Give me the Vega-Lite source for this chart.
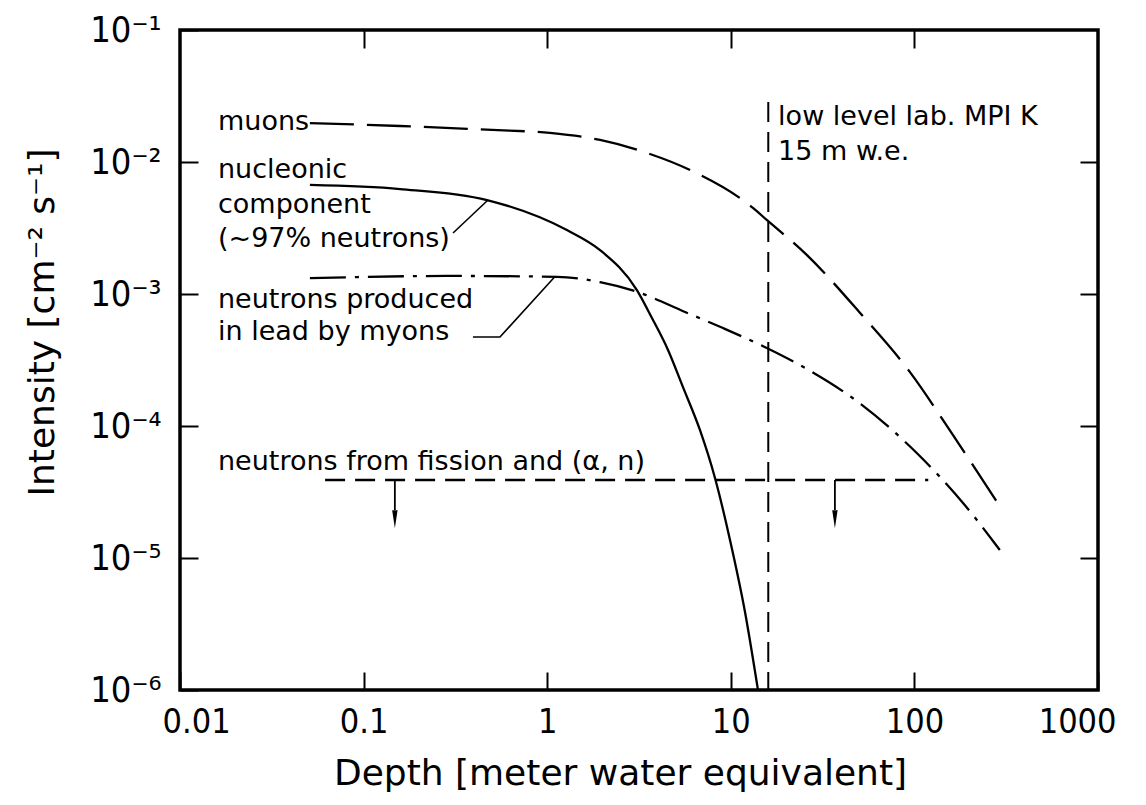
{
  "$schema": "https://vega.github.io/schema/vega-lite/v6.json",
  "width": 918,
  "height": 660,
  "autosize": "none",
  "padding": {"left": 180, "top": 30, "right": 48, "bottom": 115},
  "background": "white",
  "config": {
    "view": {"stroke": "black", "strokeWidth": 3.5},
    "axis": {"grid": false, "domain": false, "tickColor": "black", "labelColor": "black", "titleColor": "black"}
  },
  "datasets": {
    "muons": [
      {"x": 0.051, "y": 0.0197}, {"x": 0.158, "y": 0.01874}, {"x": 0.5, "y": 0.0175},
      {"x": 1.035, "y": 0.0166}, {"x": 1.94, "y": 0.01468}, {"x": 3.5, "y": 0.0117},
      {"x": 6.0, "y": 0.00869}, {"x": 13.2, "y": 0.00449}, {"x": 15.7, "y": 0.00364},
      {"x": 26, "y": 0.00197}, {"x": 50.6, "y": 0.000718}, {"x": 94.6, "y": 0.000256},
      {"x": 162, "y": 0.0000855}, {"x": 282, "y": 0.0000265}
    ],
    "nucleonic": [
      {"x": 0.051, "y": 0.0067}, {"x": 0.158, "y": 0.00624}, {"x": 0.47, "y": 0.00515},
      {"x": 1.28, "y": 0.00305}, {"x": 1.94, "y": 0.00215}, {"x": 3.08, "y": 0.00107},
      {"x": 3.72, "y": 0.000658}, {"x": 4.55, "y": 0.000377}, {"x": 5.49, "y": 0.000197},
      {"x": 6.79, "y": 0.0000933}, {"x": 8.2, "y": 0.0000404}, {"x": 9.9, "y": 0.0000137},
      {"x": 11.95, "y": 0.0000039}, {"x": 14.06, "y": 0.000001}
    ],
    "myons": [
      {"x": 0.051, "y": 0.00132}, {"x": 0.296, "y": 0.00137}, {"x": 1.13, "y": 0.00135},
      {"x": 1.94, "y": 0.00123}, {"x": 3.08, "y": 0.00104}, {"x": 5.63, "y": 0.000731},
      {"x": 9.07, "y": 0.000552}, {"x": 15.7, "y": 0.00039}, {"x": 25.4, "y": 0.000275},
      {"x": 49.3, "y": 0.000152}, {"x": 103, "y": 0.0000624},
      {"x": 184, "y": 0.0000261}, {"x": 292, "y": 0.0000115}
    ],
    "leaders": [
      {"g": "a", "o": 1, "x": 0.307, "y": 0.0029}, {"g": "a", "o": 2, "x": 0.476, "y": 0.00515},
      {"g": "b", "o": 1, "x": 0.394, "y": 0.000472}, {"g": "b", "o": 2, "x": 0.553, "y": 0.000472},
      {"g": "b", "o": 3, "x": 1.10, "y": 0.00135}
    ],
    "fission": [{"x": 0.0617, "x2": 119, "y": 0.000039}],
    "arrows": [
      {"x": 0.148, "y": 0.000039, "y2": 0.0000231, "head": 0.0000197},
      {"x": 36.9, "y": 0.000039, "y2": 0.0000231, "head": 0.0000197}
    ],
    "lab": [{"x": 16, "y": 0.0285, "y2": 0.000001}],
    "labels": [
      {"x": 0.0161, "y": 0.01747, "t": "muons"},
      {"x": 0.0161, "y": 0.00757, "t": "nucleonic"},
      {"x": 0.0161, "y": 0.00411, "t": "component"},
      {"x": 0.0161, "y": 0.00227, "t": "(~97% neutrons)"},
      {"x": 0.0161, "y": 0.000783, "t": "neutrons produced"},
      {"x": 0.0161, "y": 0.000448, "t": "in lead by myons"},
      {"x": 0.0161, "y": 0.0000464, "t": "neutrons from fission and (α, n)"},
      {"x": 18.1, "y": 0.01906, "t": "low level lab. MPI K"},
      {"x": 18.1, "y": 0.01035, "t": "15 m  w.e."}
    ]
  },
  "resolve": {"axis": {"x": "independent", "y": "independent"}},
  "layer": [
    {
      "data": {"name": "muons"},
      "mark": {"type": "line", "color": "black", "strokeWidth": 2.3, "strokeDash": [44, 13], "interpolate": "monotone"},
      "encoding": {
        "x": {"field": "x", "type": "quantitative", "scale": {"type": "log", "domain": [0.01, 1000]},
          "axis": {"orient": "bottom", "values": [0.01, 0.1, 1, 10, 100, 1000],
            "labelExpr": "format(datum.value, '~g')", "tickSize": -18, "tickWidth": 2,
            "labelFlush": true, "labelFlushOffset": 18,
            "labelFont": "DejaVu Sans Condensed", "labelFontSize": 34, "labelPadding": 33,
            "title": "Depth [meter water equivalent]", "titleFont": "DejaVu Sans",
            "titleFontSize": 36, "titleFontWeight": "normal", "titleX": 440, "titleY": 94,
            "titleBaseline": "alphabetic"}},
        "y": {"field": "y", "type": "quantitative", "scale": {"type": "log", "domain": [0.000001, 0.1]},
          "axis": {"orient": "left", "values": [0.1, 0.01, 0.001, 0.0001, 0.00001, 0.000001],
            "labelExpr": "'10' + ['⁻¹','⁻²','⁻³','⁻⁴','⁻⁵','⁻⁶'][-round(log(datum.value)/LN10)-1]",
            "tickSize": -18, "tickWidth": 2, "labelFlush": false,
            "labelFont": "DejaVu Sans Condensed", "labelFontSize": 36, "labelPadding": 37,
            "title": "Intensity [cm⁻² s⁻¹]", "titleFont": "DejaVu Sans",
            "titleFontSize": 36, "titleFontWeight": "normal", "titleX": -127, "titleY": 292,
            "titleBaseline": "alphabetic"}}
      }
    },
    {
      "data": {"name": "nucleonic"},
      "mark": {"type": "line", "color": "black", "strokeWidth": 2.3, "interpolate": "monotone"},
      "encoding": {
        "x": {"field": "x", "type": "quantitative",
          "axis": {"orient": "top", "values": [0.1, 1, 10, 100], "labels": false, "tickSize": -18, "tickWidth": 2, "title": null}},
        "y": {"field": "y", "type": "quantitative",
          "axis": {"orient": "right", "values": [0.01, 0.001, 0.0001, 0.00001], "labels": false, "tickSize": -18, "tickWidth": 2, "title": null}}
      }
    },
    {
      "data": {"name": "myons"},
      "mark": {"type": "line", "color": "black", "strokeWidth": 2.3, "strokeDash": [36, 9, 4, 9], "interpolate": "monotone"},
      "encoding": {
        "x": {"field": "x", "type": "quantitative", "axis": null},
        "y": {"field": "y", "type": "quantitative", "axis": null}
      }
    },
    {
      "data": {"name": "leaders"},
      "mark": {"type": "line", "color": "black", "strokeWidth": 1.6},
      "encoding": {
        "x": {"field": "x", "type": "quantitative", "axis": null},
        "y": {"field": "y", "type": "quantitative", "axis": null},
        "detail": {"field": "g"},
        "order": {"field": "o"}
      }
    },
    {
      "data": {"name": "fission"},
      "mark": {"type": "rule", "color": "black", "strokeWidth": 2.4, "strokeDash": [20, 10]},
      "encoding": {
        "x": {"field": "x", "type": "quantitative", "axis": null},
        "x2": {"field": "x2"},
        "y": {"field": "y", "type": "quantitative", "axis": null}
      }
    },
    {
      "data": {"name": "arrows"},
      "mark": {"type": "rule", "color": "black", "strokeWidth": 1.8},
      "encoding": {
        "x": {"field": "x", "type": "quantitative", "axis": null},
        "y": {"field": "y", "type": "quantitative", "axis": null},
        "y2": {"field": "y2"}
      }
    },
    {
      "data": {"name": "arrows"},
      "mark": {"type": "point", "shape": "M-0.3,-1L0.3,-1L0,1Z", "filled": true, "color": "black", "size": 324, "opacity": 1},
      "encoding": {
        "x": {"field": "x", "type": "quantitative", "axis": null},
        "y": {"field": "head", "type": "quantitative", "axis": null}
      }
    },
    {
      "data": {"name": "lab"},
      "mark": {"type": "rule", "color": "black", "strokeWidth": 2, "strokeDash": [20, 10]},
      "encoding": {
        "x": {"field": "x", "type": "quantitative", "axis": null},
        "y": {"field": "y", "type": "quantitative", "axis": null},
        "y2": {"field": "y2"}
      }
    },
    {
      "data": {"name": "labels"},
      "mark": {"type": "text", "align": "left", "baseline": "alphabetic", "font": "DejaVu Sans", "fontSize": 27, "color": "black"},
      "encoding": {
        "x": {"field": "x", "type": "quantitative", "axis": null},
        "y": {"field": "y", "type": "quantitative", "axis": null},
        "text": {"field": "t"}
      }
    }
  ]
}
